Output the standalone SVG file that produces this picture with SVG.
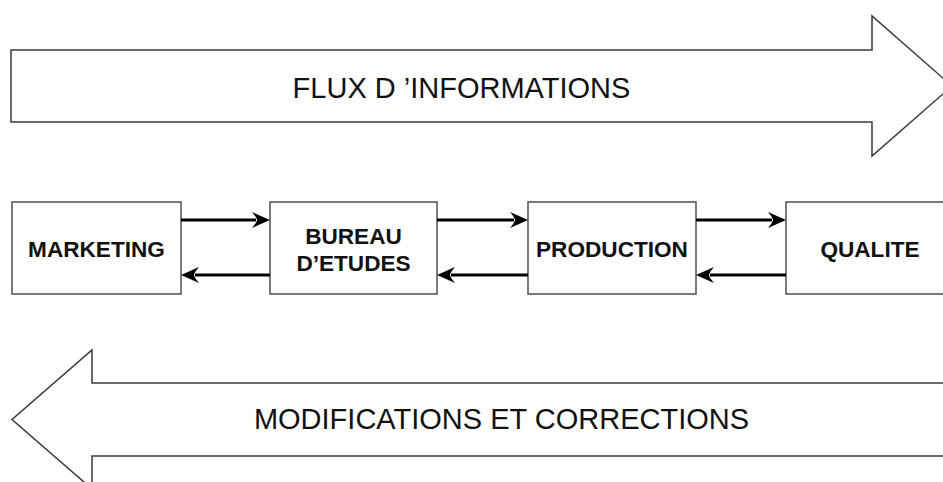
<svg xmlns="http://www.w3.org/2000/svg" width="943" height="482" viewBox="0 0 943 482">
  <style>
    .big { fill: #ffffff; stroke: #3a3a3a; stroke-width: 1.5; }
    .box { fill: #ffffff; stroke: #5a5a5a; stroke-width: 1.6; }
    .biglabel { font-family: "Liberation Sans", Arial, sans-serif; font-size: 29px; fill: #111; text-anchor: middle; }
    .label { font-family: "Liberation Sans", Arial, sans-serif; font-size: 22.6px; font-weight: bold; fill: #111; text-anchor: middle; }
    .conn { stroke: #000; stroke-width: 3.2; fill: none; marker-end: url(#head); }
  </style>
  <defs>
    <marker id="head" viewBox="-20 -10 22 20" refX="-14" refY="0" markerWidth="22" markerHeight="20" markerUnits="userSpaceOnUse" orient="auto">
      <path d="M0,0 L-18,-8 Q-13,-2 -13,0 Q-13,2 -18,8 Z" fill="#000"/>
    </marker>
  </defs>
  <rect width="943" height="482" fill="#ffffff"/>

  <g id="flux-informations">
    <polygon class="big" points="11,50 872,50 872,16 952,86 872,156 872,122 11,122"/>
    <text class="biglabel" x="461.5" y="98">FLUX D ’INFORMATIONS</text>
  </g>

  <g id="modifications-corrections">
    <polygon class="big" points="960,383 92,383 92,350 12,419.5 92,489 92,456 960,456"/>
    <text class="biglabel" x="501.5" y="429">MODIFICATIONS ET CORRECTIONS</text>
  </g>

  <g id="marketing">
    <rect class="box" x="12" y="202" width="169" height="92"/>
    <text class="label" x="96.5" y="257">MARKETING</text>
  </g>

  <g id="bureau-etudes">
    <rect class="box" x="270" y="202" width="167" height="92"/>
    <text class="label" x="353.5" y="244">BUREAU</text>
    <text class="label" x="353.5" y="271">D’ETUDES</text>
  </g>

  <g id="production">
    <rect class="box" x="528" y="202" width="168" height="92"/>
    <text class="label" x="612" y="257">PRODUCTION</text>
  </g>

  <g id="qualite">
    <rect class="box" x="786" y="202" width="168" height="92"/>
    <text class="label" x="870" y="257">QUALITE</text>
  </g>

  <g id="connectors">
    <line class="conn" x1="181" y1="220" x2="256" y2="220"/>
    <line class="conn" x1="270" y1="275" x2="195" y2="275"/>
    <line class="conn" x1="437" y1="220" x2="514" y2="220"/>
    <line class="conn" x1="528" y1="275" x2="451" y2="275"/>
    <line class="conn" x1="696" y1="220" x2="772" y2="220"/>
    <line class="conn" x1="786" y1="275" x2="710" y2="275"/>
  </g>
</svg>
